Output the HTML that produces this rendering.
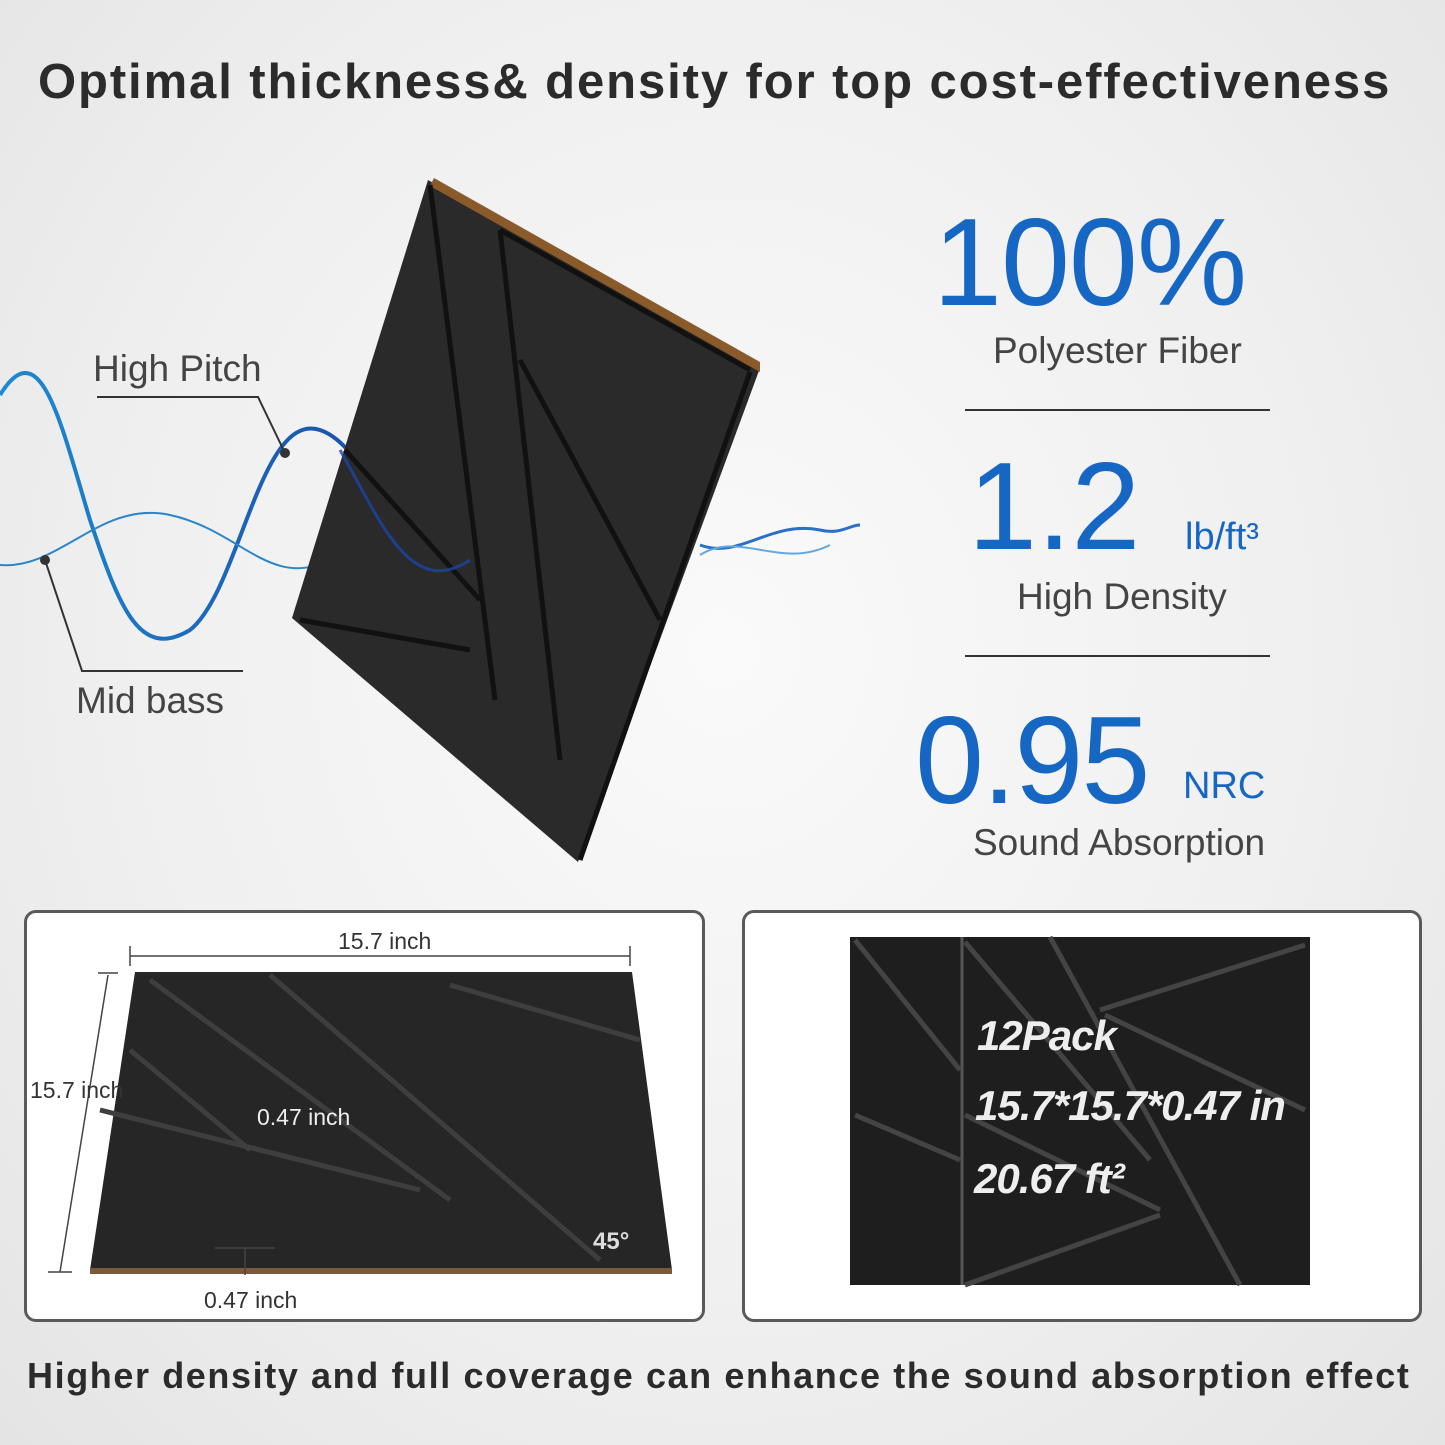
<!DOCTYPE html>
<html><head><meta charset="utf-8"><style>
body{margin:0;width:1445px;height:1445px;overflow:hidden;background:radial-gradient(ellipse at 50% 45%,#fafafa 0%,#efefef 60%,#e4e4e4 100%);font-family:"Liberation Sans",sans-serif;position:relative}
.t{position:absolute;white-space:nowrap}
.blue{color:#1666c4}
.gray{color:#444;font-size:37px}
.box{position:absolute;border:3px solid #5a5a5a;border-radius:12px;background:#fff;box-sizing:border-box}
</style></head><body>
<div class="t" style="left:38px;top:54px;font-size:49px;font-weight:bold;color:#2b2b2b;letter-spacing:1.9px">Optimal thickness&amp; density for top cost-effectiveness</div>

<svg width="1445" height="1445" style="position:absolute;left:0;top:0">
<defs><linearGradient id="w" x1="0" x2="1"><stop offset="0" stop-color="#1d8ad0"/><stop offset="1" stop-color="#1a3fa0"/></linearGradient></defs>
<path d="M0,395 C40,330 60,420 90,520 C120,610 140,660 190,630 C240,590 260,410 320,430 C380,450 400,600 470,560" fill="none" stroke="url(#w)" stroke-width="4"/>
<path d="M0,565 C60,570 100,500 170,515 C240,530 270,590 330,560 C390,530 420,480 480,490" fill="none" stroke="#2a86c8" stroke-width="2"/>
<path d="M700,545 C740,560 770,520 820,530 C840,535 850,525 860,525" fill="none" stroke="#2a6fc8" stroke-width="3"/>
<path d="M700,555 C740,530 780,570 830,545" fill="none" stroke="#5fa8e0" stroke-width="2"/>
<polygon points="428,180 760,368 578,862 292,618" fill="#2a2a2a"/>
<polygon points="434,178 760,362 760,372 430,186" fill="#8a5a2a"/>
<g stroke="#111" stroke-width="5" fill="none">
<line x1="430" y1="185" x2="495" y2="700"/><line x1="500" y1="230" x2="560" y2="760"/>
<line x1="500" y1="230" x2="750" y2="370"/><line x1="520" y1="360" x2="660" y2="620"/>
<line x1="345" y1="450" x2="480" y2="600"/><line x1="300" y1="620" x2="470" y2="650"/>
<line x1="750" y1="372" x2="580" y2="860"/>
</g>
<path d="M340,450 C380,520 410,600 470,560" fill="none" stroke="#1a45a8" stroke-width="3" opacity="0.8"/>
<circle cx="285" cy="453" r="5" fill="#333"/><circle cx="45" cy="560" r="5" fill="#333"/>
<polyline points="97,397 258,397 285,453" fill="none" stroke="#333" stroke-width="2"/>
<polyline points="45,560 82,671 243,671" fill="none" stroke="#333" stroke-width="2"/>
<line x1="965" y1="410" x2="1270" y2="410" stroke="#333" stroke-width="2"/>
<line x1="965" y1="656" x2="1270" y2="656" stroke="#333" stroke-width="2"/>
</svg>
<div class="t gray" style="left:93px;top:348px">High Pitch</div>
<div class="t gray" style="left:76px;top:680px">Mid bass</div>

<div class="t blue" style="left:933px;top:192px;font-size:124px;letter-spacing:-1px">100%</div>
<div class="t gray" style="left:993px;top:330px">Polyester Fiber</div>
<div class="t blue" style="left:968px;top:436px;font-size:124px">1.2</div>
<div class="t blue" style="left:1185px;top:516px;font-size:38px">lb/ft³</div>
<div class="t gray" style="left:1017px;top:576px">High Density</div>
<div class="t blue" style="left:915px;top:690px;font-size:124px;letter-spacing:-2px">0.95</div>
<div class="t blue" style="left:1183px;top:765px;font-size:38px">NRC</div>
<div class="t gray" style="left:973px;top:822px">Sound Absorption</div>

<div class="box" style="left:24px;top:910px;width:681px;height:412px"></div>
<div class="box" style="left:742px;top:910px;width:680px;height:412px"></div>
<svg width="1445" height="1445" style="position:absolute;left:0;top:0">
<polygon points="135,972 632,972 672,1270 90,1270" fill="#262626"/>
<rect x="90" y="1268" width="582" height="6" fill="#7a5a3a"/>
<g stroke="#3e3e3e" stroke-width="5"><line x1="150" y1="980" x2="450" y2="1200"/><line x1="270" y1="975" x2="600" y2="1260"/><line x1="100" y1="1110" x2="420" y2="1190"/><line x1="130" y1="1050" x2="250" y2="1150"/><line x1="450" y1="985" x2="640" y2="1040"/></g>
<g stroke="#444" stroke-width="1.5"><line x1="130" y1="956" x2="630" y2="956"/><line x1="130" y1="946" x2="130" y2="966"/><line x1="630" y1="946" x2="630" y2="966"/><line x1="108" y1="975" x2="60" y2="1272"/><line x1="98" y1="973" x2="118" y2="973"/><line x1="48" y1="1272" x2="72" y2="1272"/><line x1="245" y1="1248" x2="245" y2="1275"/><line x1="215" y1="1248" x2="275" y2="1248"/></g>
<rect x="850" y="937" width="460" height="348" fill="#1e1e1e"/>
<line x1="962" y1="937" x2="962" y2="1285" stroke="#555" stroke-width="3"/>
<g stroke="#444" stroke-width="5"><line x1="855" y1="940" x2="960" y2="1070"/><line x1="965" y1="942" x2="1150" y2="1160"/><line x1="1050" y1="937" x2="1240" y2="1285"/><line x1="1100" y1="1010" x2="1305" y2="945"/><line x1="1105" y1="1015" x2="1305" y2="1110"/><line x1="965" y1="1115" x2="1160" y2="1210"/><line x1="965" y1="1285" x2="1160" y2="1215"/><line x1="855" y1="1115" x2="960" y2="1160"/></g>
</svg>
<div class="t" style="left:338px;top:928px;font-size:23px;color:#333">15.7 inch</div>
<div class="t" style="left:30px;top:1077px;font-size:23px;color:#333">15.7 inch</div>
<div class="t" style="left:257px;top:1104px;font-size:23px;color:#eee">0.47 inch</div>
<div class="t" style="left:204px;top:1287px;font-size:23px;color:#333">0.47 inch</div>
<div class="t" style="left:593px;top:1228px;font-size:24px;color:#ddd;font-weight:bold">45°</div>
<div class="t" style="left:977px;top:1012px;font-size:42px;color:#eee;font-weight:bold;font-style:italic;letter-spacing:-1px">12Pack</div>
<div class="t" style="left:975px;top:1082px;font-size:42px;color:#eee;font-weight:bold;font-style:italic;letter-spacing:-1px">15.7*15.7*0.47 in</div>
<div class="t" style="left:974px;top:1155px;font-size:42px;color:#eee;font-weight:bold;font-style:italic;letter-spacing:-1px">20.67 ft²</div>

<div class="t" style="left:27px;top:1355px;font-size:36px;font-weight:bold;color:#2b2b2b;letter-spacing:1.6px">Higher density and full coverage can enhance the sound absorption effect</div>
</body></html>
